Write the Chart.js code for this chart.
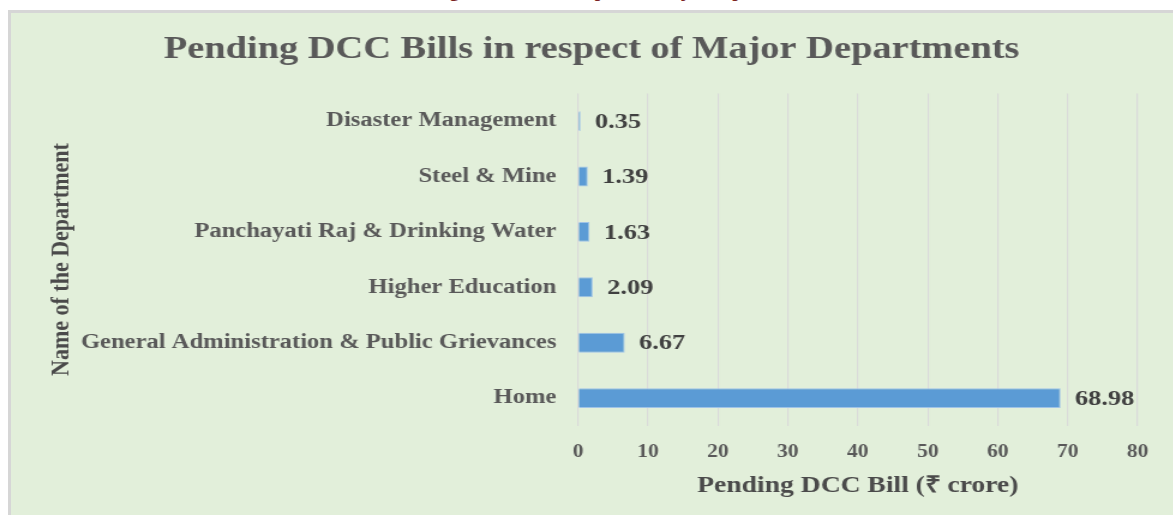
<!DOCTYPE html>
<html>
<head>
<meta charset="utf-8">
<script src="https://cdn.jsdelivr.net/npm/chart.js@4"></script>
<style>
  html, body { margin: 0; padding: 0; background: #ffffff; overflow: hidden; }
  body { width: 1173px; height: 515px; position: relative; font-family: "Liberation Serif", serif; }
  #caption {
    position: absolute; left: 0; width: 1120px; top: -20px; text-align: center;
    font-weight: bold; font-size: 19px; color: #7b2222; white-space: nowrap;
  }
  #panel {
    position: absolute; left: 8px; top: 10px; right: -4px; bottom: -4px;
    background: #e2efda; border-left: 3px solid #d6d6d6; border-top: 3px solid #d6d6d6;
  }
  /* the source picture is stretched sideways, so the chart is drawn narrow and widened */
  #wrap {
    position: absolute; left: 0; top: 0; width: 978px; height: 515px;
    transform: scaleX(1.2); transform-origin: 0 0;
  }
</style>
</head>
<body>
<div id="caption">Chart 4.3: Pending DCC Bills in respect of Major Departments</div>
<div id="panel"></div>
<div id="wrap"><canvas id="billChart"></canvas></div>
<script>
// chart data
const departments = [
    "Disaster Management",
    "Steel & Mine",
    "Panchayati Raj & Drinking Water",
    "Higher Education",
    "General Administration & Public Grievances",
    "Home"
];
const pendingBills = [0.35, 1.39, 1.63, 2.09, 6.67, 68.98];
const xTicks = [0, 10, 20, 30, 40, 50, 60, 70, 80];

const serif = "'Liberation Serif', 'Times New Roman', serif";

// draws the value next to each bar
const barValueLabels = {
    id: "barValueLabels",
    afterDatasetsDraw(chart) {
        const ctx = chart.ctx;
        const meta = chart.getDatasetMeta(0);
        ctx.save();
        ctx.font = "bold 22px " + serif;
        ctx.fillStyle = "#404040";
        ctx.textAlign = "left";
        ctx.textBaseline = "middle";
        meta.data.forEach((bar, i) => {
            ctx.fillText(pendingBills[i].toFixed(2), bar.x + 12, bar.y + 1);
        });
        ctx.restore();
    }
};

document.addEventListener("DOMContentLoaded", () => {
    const canvas = document.getElementById("billChart");
    new Chart(canvas.getContext("2d"), {
        type: "bar",
        data: {
            labels: departments,
            datasets: [{
                label: "Pending DCC Bill",
                data: pendingBills,
                backgroundColor: "#5b9bd5",
                borderColor: "#9fc3e7",
                borderWidth: 1,
                categoryPercentage: 1,
                barPercentage: 0.36
            }]
        },
        options: {
            indexAxis: "y",
            responsive: true,
            maintainAspectRatio: false,
            animation: false,
            layout: { padding: { left: 38, right: 30, top: 23, bottom: 14 } },
            plugins: {
                legend: { display: false },
                tooltip: { enabled: false },
                title: {
                    display: true,
                    text: "Pending DCC Bills in respect of Major Departments",
                    color: "#595959",
                    font: { family: serif, size: 32, weight: "bold" },
                    padding: { top: 8, bottom: 24 }
                }
            },
            scales: {
                x: {
                    min: 0,
                    max: 80,
                    afterBuildTicks: axis => { axis.ticks = xTicks.map(v => ({ value: v })); },
                    grid: { color: "#d9d9d9", lineWidth: 1.2, drawTicks: false },
                    border: { display: false },
                    ticks: {
                        color: "#595959",
                        padding: 16,
                        font: { family: serif, size: 18, weight: "bold" }
                    },
                    title: {
                        display: true,
                        text: "Pending DCC Bill (₹ crore)",
                        color: "#4a4a4a",
                        font: { family: serif, size: 23, weight: "bold" },
                        padding: { top: -7, bottom: 1 }
                    }
                },
                y: {
                    grid: { display: false },
                    border: { display: false },
                    ticks: {
                        color: "#595959",
                        padding: 10,
                        font: { family: serif, size: 20.5, weight: "bold" }
                    },
                    title: {
                        display: true,
                        text: "Name of the Department",
                        color: "#4a4a4a",
                        font: { family: serif, size: 22, weight: "bold" },
                        padding: { top: 0, bottom: -7 }
                    }
                }
            }
        },
        plugins: [barValueLabels]
    });
});
</script>
</body>
</html>
